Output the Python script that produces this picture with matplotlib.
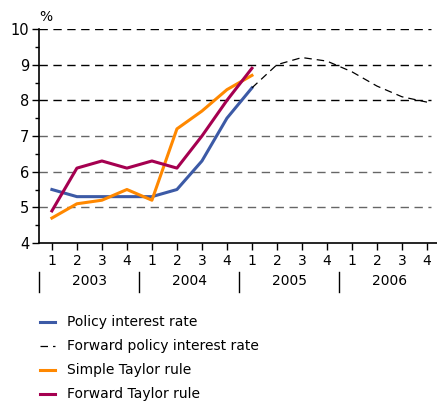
import matplotlib.pyplot as plt

plt.rcParams["font.family"] = "DejaVu Sans"

# Quarters 2003 Q1 .. 2006 Q4
quarters = ["1", "2", "3", "4"] * 4
years = ["2003", "2004", "2005", "2006"]

policy_rate = [5.5, 5.3, 5.3, 5.3, 5.3, 5.5, 6.3, 7.5, 8.35]
forward_policy_rate = [8.35, 9.0, 9.2, 9.1, 8.8, 8.4, 8.1, 7.95]
simple_taylor = [4.7, 5.1, 5.2, 5.5, 5.2, 7.2, 7.7, 8.3, 8.7]
forward_taylor = [4.9, 6.1, 6.3, 6.1, 6.3, 6.1, 7.0, 8.0, 8.9]

fig = plt.figure(figsize=(4.37, 4.03), dpi=100)
ax = fig.add_axes([0.089, 0.397, 0.911, 0.531])

# Gitterlinien
for yv in [5, 6, 7, 8, 9, 10]:
    col = "#666666" if yv < 8 else "black"
    ax.axhline(yv, xmax=0.985, color=col, linestyle=(0, (6, 4)), linewidth=1.0, zorder=1)

ax.plot(range(len(policy_rate)), policy_rate, color="#3c5aa6", linewidth=2.2,
        label="Policy interest rate", zorder=3)
ax.plot(range(8, 8 + len(forward_policy_rate)), forward_policy_rate, color="black",
        linewidth=0.9, linestyle=(0, (6, 4)), label="Forward policy interest rate", zorder=3)
ax.plot(range(len(simple_taylor)), simple_taylor, color="#ff8800", linewidth=2.2,
        label="Simple Taylor rule", zorder=3)
ax.plot(range(len(forward_taylor)), forward_taylor, color="#a50050", linewidth=2.2,
        label="Forward Taylor rule", zorder=3)

ax.set_xlim(-0.52, 15.4)
ax.set_ylim(4, 10)

for side in ["top", "right"]:
    ax.spines[side].set_visible(False)
ax.spines["left"].set_linewidth(1.2)
ax.spines["bottom"].set_linewidth(1.2)

ax.set_yticks(range(4, 11))
ax.set_yticks([4.5, 5.5, 6.5, 7.5, 8.5, 9.5], minor=True)
ax.tick_params(axis="y", which="major", length=5, width=1, labelsize=10.5, pad=2)
ax.tick_params(axis="y", which="minor", length=3, width=1)
ax.set_xticks(range(16))
ax.set_xticklabels(quarters)
ax.tick_params(axis="x", length=5, width=1, labelsize=10, pad=3)

ax.text(-0.5, 10.15, "%", fontsize=10, ha="left", va="bottom")

# Jahresbeschriftungen
for i, yr in enumerate(years):
    ax.text(i * 4 + 1.5, -0.178, yr, transform=ax.get_xaxis_transform(),
            ha="center", va="center", fontsize=10)
    ax.plot([i * 4 - 0.5, i * 4 - 0.5], [-0.136, -0.229], transform=ax.get_xaxis_transform(),
            color="black", linewidth=1, clip_on=False)

handles, labels = ax.get_legend_handles_labels()
fig.legend(handles, labels, loc="upper left", bbox_to_anchor=(0.078, 0.231), frameon=False,
           fontsize=10, handlelength=1.08, labelspacing=0.72, handletextpad=0.86,
           borderaxespad=0)

fig.savefig("out.png", dpi=100)
